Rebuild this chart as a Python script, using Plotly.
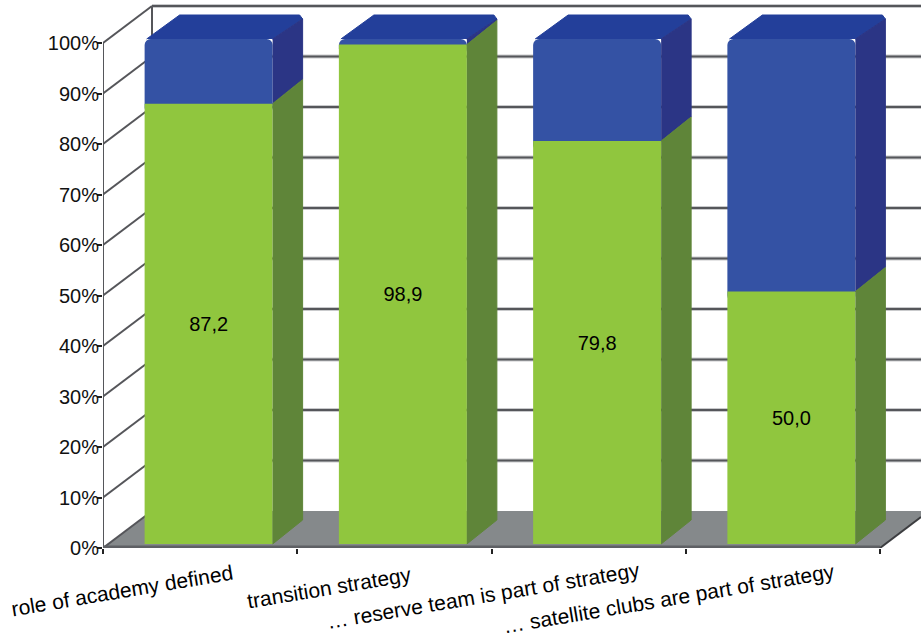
import plotly.graph_objects as go

categories = ["role of academy defined", "transition strategy",
              "… reserve team is part of strategy", "… satellite clubs are part of strategy"]
green_values = [87.2, 98.9, 79.8, 50.0]
blue_values = [12.8, 1.1, 20.2, 50.0]
value_labels = ["87,2", "98,9", "79,8", "50,0"]
y_ticks = [0, 10, 20, 30, 40, 50, 60, 70, 80, 90, 100]
y_tick_labels = ["0%", "10%", "20%", "30%", "40%", "50%", "60%", "70%", "80%", "90%", "100%"]
slot_edges = [0, 1, 2, 3, 4]

W, H = 921, 637
ML, MB = 103, 89
SX, SY = 194.25, 5.05          # px per slot, px per percent
XMAX, YMAX = (W - ML) / SX, (H - MB) / SY
WALL_X, WALL_Y = 49 / SX, 37 / SY
BAR_W = 128 / SX
BAR_SHIFT = 0.5 + 8.5 / SX
BASE = 4 / SY
DEPTH_X, DEPTH_Y = 30 / SX, 24 / SY
LEFT_X = 35 / SX
CH_X, CH_Y = 3 / SX, 4 / SY
TUCK = 2.0                     # blue runs under the green so only its top corners show as rounded

GREEN, GREEN_SIDE = "#90C63E", "#5F8539"
BLUE, BLUE_SIDE, BLUE_TOP = "#3452A4", "#2B3585", "#233F9A"
LINE, HALO, FLOOR = "#55565A", "#C9CACC", "#85898B"
FONT = "Liberation Sans"

fig = go.Figure()
shapes = []


def line(x0, y0, x1, y1, color=LINE, width=2):
    shapes.append(dict(type="line", xref="x", yref="y", x0=x0, y0=y0, x1=x1, y1=y1,
                       line=dict(color=color, width=width), layer="below"))


# floor
fx = [0, WALL_X, XMAX, XMAX, 4, 0]
fy = [0, WALL_Y, WALL_Y, WALL_Y - 6 / SY, 0, 0]
shapes.append(dict(type="path", xref="x", yref="y", layer="below",
                   path="M" + " L".join(f"{a},{b}" for a, b in zip(fx, fy)) + " Z",
                   fillcolor=FLOOR, line=dict(width=0)))
# walls and grid
for v in y_ticks:
    if v:
        line(WALL_X, v + WALL_Y, XMAX, v + WALL_Y, HALO, 4)
        line(WALL_X, v + WALL_Y, XMAX, v + WALL_Y)
    line(0, v, WALL_X, v + WALL_Y)
line(WALL_X, WALL_Y, WALL_X, 100 + WALL_Y)
line(0, 0, 0, 100)
line(0, 0.2, 4, 0.2, "#5E6064", 3)
line(4, 0, XMAX, WALL_Y - 6 / SY, "#3C3D40", 2)

x_pos = [i + BAR_SHIFT for i in range(len(categories))]

fig.add_trace(go.Bar(x=x_pos, y=[b + TUCK for b in blue_values],
                     base=[g + BASE - TUCK for g in green_values], width=BAR_W,
                     name="blue", marker=dict(color=BLUE, line=dict(width=0), cornerradius=6),
                     hoverinfo="skip", showlegend=False))
fig.add_trace(go.Bar(x=x_pos, y=green_values, base=BASE, width=BAR_W, name="green",
                     marker=dict(color=GREEN, line=dict(width=0)), text=value_labels,
                     textposition="inside", insidetextanchor="middle", textangle=0,
                     insidetextfont=dict(family=FONT, size=20, color="#000000"),
                     hoverinfo="skip", showlegend=False))


def poly(xs, ys, color):
    fig.add_trace(go.Scatter(x=xs, y=ys, mode="lines", fill="toself", fillcolor=color,
                             line=dict(width=1, color=color), hoverinfo="skip", showlegend=False))


for cx, g in zip(x_pos, green_values):
    right = cx + BAR_W / 2
    left = cx - BAR_W / 2
    g_top = g + BASE
    b_top = 100 + BASE
    # top
    poly([left + 2 / SX, left + LEFT_X, right + DEPTH_X - CH_X, right + DEPTH_X, right],
         [b_top, b_top + DEPTH_Y, b_top + DEPTH_Y, b_top + DEPTH_Y - CH_Y, b_top], BLUE_TOP)
    # blue side
    poly([right, right + DEPTH_X, right + DEPTH_X, right],
         [g_top, g_top + DEPTH_Y, b_top + DEPTH_Y - CH_Y, b_top], BLUE_SIDE)
    # green side
    poly([right, right + DEPTH_X, right + DEPTH_X, right],
         [BASE, BASE + DEPTH_Y, g_top + DEPTH_Y, g_top], GREEN_SIDE)

label_px = [(122, 590), (329, 587), (483, 596), (668, 598)]
annotations = [dict(x=(px - ML) / (W - ML), y=-(py - (H - MB)) / (H - MB), xref="paper", yref="paper",
                    text=t, showarrow=False, textangle=-9.5, xanchor="center", yanchor="middle",
                    font=dict(family=FONT, size=21, color="#000000"))
               for t, (px, py) in zip(categories, label_px)]

fig.update_layout(
    width=W, height=H, margin=dict(l=ML, r=0, t=0, b=MB, pad=0, autoexpand=False),
    paper_bgcolor="white", plot_bgcolor="white", barmode="overlay", showlegend=False,
    shapes=shapes, annotations=annotations,
    xaxis=dict(range=[0, XMAX], tickmode="array", tickvals=slot_edges, ticktext=[""] * 5,
               ticks="outside", ticklen=5, tickcolor="#222222", tickwidth=1.5,
               showgrid=False, zeroline=False, showline=False),
    yaxis=dict(range=[0, YMAX], tickmode="array", tickvals=y_ticks, ticktext=y_tick_labels,
               ticks="outside", ticklen=5, tickcolor="#222222", tickwidth=1.5,
               ticklabelstandoff=-6, tickfont=dict(family=FONT, size=20, color="#111111"),
               showgrid=False, zeroline=False, showline=False),
)
fig.write_html("out.html", config=dict(displayModeBar=False),
               post_script="document.body.style.margin='0';document.body.style.overflow='hidden';")
